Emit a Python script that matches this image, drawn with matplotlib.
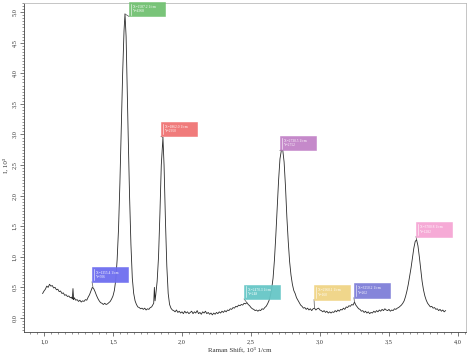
import numpy as np
import matplotlib
matplotlib.use("Agg")
import matplotlib.pyplot as plt
from matplotlib.patches import Rectangle
from matplotlib.ticker import MultipleLocator, FuncFormatter

# spectrum (x in 10^3 1/cm, intensity in 10^3)
shift = [0.99, 1.00, 1.01, 1.02, 1.03, 1.04, 1.05, 1.06, 1.07, 1.08, 1.09, 1.10,
         1.11, 1.12, 1.13, 1.14, 1.15, 1.16, 1.17, 1.18, 1.19, 1.20, 1.205, 1.21,
         1.215, 1.22, 1.23, 1.24, 1.25, 1.26, 1.27, 1.28, 1.29, 1.30, 1.31, 1.32,
         1.33, 1.34, 1.35, 1.36, 1.37, 1.38, 1.39, 1.40, 1.41, 1.42, 1.43, 1.44,
         1.45, 1.46, 1.47, 1.48, 1.49, 1.50, 1.51, 1.52, 1.53, 1.54, 1.55, 1.56,
         1.57, 1.58, 1.587, 1.595, 1.60, 1.61, 1.62, 1.63, 1.64, 1.65, 1.66, 1.67,
         1.68, 1.69, 1.70, 1.71, 1.72, 1.73, 1.74, 1.75, 1.76, 1.77, 1.78, 1.79,
         1.795, 1.80, 1.805, 1.81, 1.82, 1.83, 1.84, 1.85, 1.862, 1.87, 1.88, 1.89,
         1.90, 1.91, 1.92, 1.93, 1.94, 1.95, 1.96, 1.97, 1.98, 1.99, 2.00, 2.01,
         2.02, 2.03, 2.04, 2.05, 2.06, 2.07, 2.08, 2.09, 2.10, 2.11, 2.12, 2.13,
         2.14, 2.15, 2.16, 2.17, 2.18, 2.19, 2.20, 2.21, 2.22, 2.23, 2.24, 2.25,
         2.26, 2.27, 2.28, 2.29, 2.30, 2.31, 2.32, 2.33, 2.34, 2.35, 2.36, 2.37,
         2.38, 2.39, 2.40, 2.41, 2.42, 2.43, 2.44, 2.45, 2.46, 2.47, 2.48, 2.49,
         2.50, 2.51, 2.52, 2.53, 2.54, 2.55, 2.56, 2.57, 2.58, 2.59, 2.60, 2.61,
         2.62, 2.63, 2.64, 2.65, 2.66, 2.67, 2.68, 2.69, 2.70, 2.71, 2.72, 2.73,
         2.74, 2.75, 2.76, 2.77, 2.78, 2.79, 2.80, 2.81, 2.82, 2.83, 2.84, 2.85,
         2.86, 2.87, 2.88, 2.89, 2.90, 2.91, 2.92, 2.93, 2.94, 2.95, 2.96, 2.97,
         2.98, 2.99, 3.00, 3.01, 3.02, 3.03, 3.04, 3.05, 3.06, 3.07, 3.08, 3.09,
         3.10, 3.11, 3.12, 3.13, 3.14, 3.15, 3.16, 3.17, 3.18, 3.19, 3.20, 3.21,
         3.22, 3.23, 3.24, 3.25, 3.26, 3.27, 3.28, 3.29, 3.30, 3.31, 3.32, 3.33,
         3.34, 3.35, 3.36, 3.37, 3.38, 3.39, 3.40, 3.41, 3.42, 3.43, 3.44, 3.45,
         3.46, 3.47, 3.48, 3.49, 3.50, 3.51, 3.52, 3.53, 3.54, 3.55, 3.56, 3.57,
         3.58, 3.59, 3.60, 3.61, 3.62, 3.63, 3.64, 3.65, 3.66, 3.67, 3.68, 3.69,
         3.70, 3.71, 3.72, 3.73, 3.74, 3.75, 3.76, 3.77, 3.78, 3.79, 3.80, 3.81,
         3.82, 3.83, 3.84, 3.85, 3.86, 3.87, 3.88, 3.89, 3.90, 3.91]
intensity = [0.40, 0.44, 0.47, 0.52, 0.50, 0.55, 0.52, 0.53, 0.49, 0.50, 0.46, 0.47,
             0.43, 0.44, 0.40, 0.41, 0.37, 0.38, 0.35, 0.36, 0.33, 0.34, 0.31, 0.48,
             0.30, 0.33, 0.29, 0.30, 0.27, 0.29, 0.26, 0.28, 0.27, 0.30, 0.29, 0.34,
             0.38, 0.44, 0.50, 0.48, 0.43, 0.37, 0.32, 0.28, 0.25, 0.24, 0.22, 0.24,
             0.22, 0.23, 0.25, 0.27, 0.31, 0.36, 0.45, 0.62, 0.95, 1.45, 2.20, 3.10,
             4.00, 4.70, 4.97, 4.60, 4.05, 3.00, 2.00, 1.20, 0.65, 0.40, 0.28, 0.22,
             0.18, 0.17, 0.15, 0.16, 0.14, 0.16, 0.13, 0.15, 0.14, 0.17, 0.18, 0.22,
             0.24, 0.50, 0.28, 0.38, 0.60, 1.00, 1.70, 2.50, 2.95, 2.50, 1.60, 0.85,
             0.40, 0.22, 0.16, 0.13, 0.12, 0.10, 0.13, 0.09, 0.11, 0.08, 0.10, 0.07,
             0.11, 0.08, 0.10, 0.07, 0.09, 0.11, 0.07, 0.10, 0.08, 0.12, 0.07, 0.09,
             0.06, 0.10, 0.08, 0.11, 0.07, 0.09, 0.06, 0.08, 0.05, 0.08, 0.06, 0.09,
             0.07, 0.10, 0.08, 0.11, 0.09, 0.12, 0.10, 0.13, 0.12, 0.15, 0.14, 0.17,
             0.16, 0.19, 0.18, 0.21, 0.20, 0.22, 0.21, 0.24, 0.23, 0.25, 0.22, 0.20,
             0.17, 0.15, 0.14, 0.12, 0.13, 0.11, 0.13, 0.12, 0.15, 0.14, 0.17, 0.19,
             0.23, 0.28, 0.36, 0.48, 0.65, 0.95, 1.35, 1.80, 2.25, 2.60, 2.74, 2.75,
             2.55, 2.15, 1.65, 1.25, 0.92, 0.70, 0.55, 0.45, 0.40, 0.33, 0.29, 0.25,
             0.21, 0.19, 0.16, 0.17, 0.14, 0.16, 0.13, 0.15, 0.12, 0.15, 0.16, 0.13,
             0.15, 0.16, 0.13, 0.12, 0.10, 0.12, 0.09, 0.11, 0.08, 0.10, 0.08, 0.10,
             0.09, 0.12, 0.10, 0.13, 0.11, 0.14, 0.13, 0.16, 0.14, 0.18, 0.17, 0.20,
             0.19, 0.22, 0.21, 0.26, 0.21, 0.18, 0.15, 0.14, 0.11, 0.12, 0.09, 0.11,
             0.08, 0.10, 0.07, 0.09, 0.08, 0.11, 0.09, 0.12, 0.10, 0.13, 0.11, 0.14,
             0.12, 0.15, 0.13, 0.12, 0.14, 0.11, 0.13, 0.12, 0.15, 0.14, 0.16, 0.17,
             0.19, 0.21, 0.24, 0.28, 0.35, 0.44, 0.55, 0.68, 0.82, 0.98, 1.14, 1.25,
             1.28, 1.18, 1.00, 0.80, 0.60, 0.46, 0.36, 0.29, 0.24, 0.21, 0.18, 0.19,
             0.16, 0.17, 0.14, 0.15, 0.12, 0.14, 0.11, 0.13, 0.10, 0.12]

# peak markers: anchor point, box lower-left, colour, label
mark_x = [1.355, 1.587, 1.862, 2.47, 2.73, 2.96, 3.25, 3.70]
mark_y = [0.50, 4.97, 2.95, 0.25, 2.75, 0.16, 0.26, 1.28]
box_x = [1.348, 1.616, 1.848, 2.45, 2.71, 2.957, 3.246, 3.696]
box_y = [0.59, 4.93, 2.97, 0.31, 2.74, 0.30, 0.33, 1.33]
box_col = ["#6e6ef0", "#72c172", "#f07474", "#66c6c6", "#c283c8",
           "#f0d485", "#7f7fd8", "#f6a6d4"]
box_txt = ["X=1355.4 1/cm\nY=506", "X=1587.2 1/cm\nY=4968", "X=1862.0 1/cm\nY=2950",
           "X=2470.3 1/cm\nY=248", "X=2730.5 1/cm\nY=2752", "X=2960.1 1/cm\nY=160",
           "X=3250.2 1/cm\nY=262", "X=3700.8 1/cm\nY=1282"]

plt.rcParams['font.family'] = ['Liberation Serif', 'DejaVu Serif']

fig = plt.figure(figsize=(4.75, 3.56), dpi=100)
ax = fig.add_axes([0.0505, 0.0674, 0.9305, 0.9242])

ax.plot(shift, intensity, color='#2a2a2a', lw=0.6)

bw, bh = 0.26, 0.235
for mx, my, bx, by, c, t in zip(mark_x, mark_y, box_x, box_y, box_col, box_txt):
    ax.plot([mx, bx], [my, by], color='#555555', lw=0.5)
    ax.add_patch(Rectangle((bx, by), bw, bh, facecolor=c, edgecolor=c,
                           lw=0.4, alpha=0.95, clip_on=False, zorder=3))
    ax.plot([bx + 0.012, bx + 0.012], [by + 0.03, by + bh - 0.03],
            color='white', lw=0.4, zorder=4)
    ax.text(bx + 0.03, by + bh / 2, t, color='white', fontsize=2.6,
            va='center', ha='left', linespacing=1.1, zorder=4)

ax.set_xlim(0.855, 4.058)
ax.set_ylim(-0.23, 5.15)

ax.xaxis.set_major_locator(MultipleLocator(0.5))
ax.xaxis.set_minor_locator(MultipleLocator(0.05))
ax.yaxis.set_major_locator(MultipleLocator(0.5))
ax.yaxis.set_minor_locator(MultipleLocator(0.05))
comma = FuncFormatter(lambda v, p: f"{v:.1f}".replace('.', ','))
ax.xaxis.set_major_formatter(comma)
ax.yaxis.set_major_formatter(comma)

ax.tick_params(which='major', length=3, width=0.5, color='#444444',
               labelsize=4.5, labelcolor='#333333', pad=2)
ax.tick_params(which='minor', length=1.5, width=0.4, color='#444444')
for lab in ax.get_yticklabels():
    lab.set_rotation(90)
    lab.set_va('center')

for s in ['left', 'bottom']:
    ax.spines[s].set_color('#444444')
    ax.spines[s].set_linewidth(0.6)
for s in ['top', 'right']:
    ax.spines[s].set_color('#bbbbbb')
    ax.spines[s].set_linewidth(0.6)

fig.text(240 / 475, 1 - 350 / 356, "Raman Shift, 10³ 1/cm", fontsize=5,
         color='#333333', ha='center', va='center')
fig.text(6 / 475, 1 - 165 / 356, "I, 10³", fontsize=5, color='#333333',
         ha='center', va='center', rotation=90)

fig.savefig("out.png", dpi=100)
